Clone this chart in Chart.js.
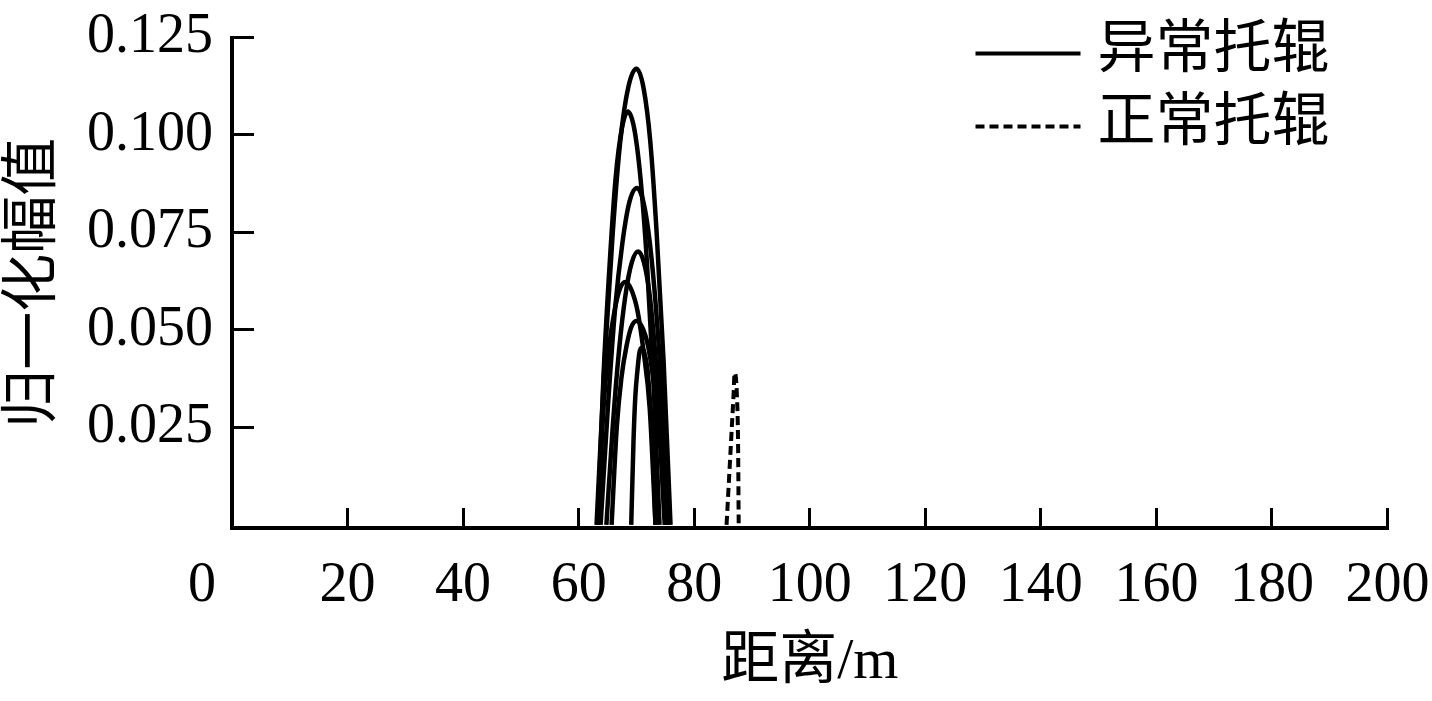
<!DOCTYPE html>
<html>
<head>
<meta charset="utf-8">
<script src="https://cdn.jsdelivr.net/npm/chart.js@4.4.1/dist/chart.umd.min.js"></script>
<style>
  body { margin: 0; background: #fff; }
  #chart-canvas { display: block; }
</style>
</head>
<body>
<canvas id="chart-canvas" width="1432" height="701"></canvas>
<script>
// distance (m) / normalized amplitude
const abnormalDist = [
	[63.1, 64.5, 65.9, 67.2, 68.6, 70.0, 71.2, 72.4, 73.5, 74.7, 75.9],
	[63.3, 64.3, 65.4, 66.4, 67.5, 68.5, 69.6, 70.7, 71.8, 72.9, 74.0],
	[63.8, 65.1, 66.3, 67.6, 68.8, 70.1, 71.2, 72.3, 73.4, 74.5, 75.6],
	[64.8, 65.9, 67.0, 68.1, 69.2, 70.3, 71.3, 72.3, 73.2, 74.2, 75.2],
	[63.3, 64.3, 65.2, 66.2, 67.1, 68.1, 69.1, 70.2, 71.2, 72.3, 73.3],
	[65.7, 66.6, 67.4, 68.3, 69.1, 70.0, 71.0, 72.0, 72.9, 73.9, 74.9],
	[69.1, 69.5, 69.8, 70.2, 70.5, 70.9, 71.4, 71.9, 72.3, 72.8, 73.3],
];
const abnormalAmp = [
	[0, 0.0421, 0.0749, 0.0983, 0.1123, 0.117, 0.1123, 0.0983, 0.0749, 0.0421, 0],
	[0, 0.0382, 0.0678, 0.0890, 0.1018, 0.106, 0.1018, 0.0890, 0.0678, 0.0382, 0],
	[0, 0.0311, 0.0553, 0.0726, 0.0829, 0.0864, 0.0829, 0.0726, 0.0553, 0.0311, 0],
	[0, 0.0252, 0.0449, 0.0589, 0.0673, 0.0701, 0.0673, 0.0589, 0.0449, 0.0252, 0],
	[0, 0.0299, 0.0449, 0.0548, 0.0604, 0.0623, 0.0604, 0.0548, 0.0449, 0.0299, 0],
	[0, 0.0251, 0.0377, 0.0460, 0.0507, 0.0523, 0.0507, 0.0460, 0.0377, 0.0251, 0],
	[0, 0.0218, 0.0327, 0.0400, 0.0440, 0.0454, 0.0440, 0.0400, 0.0327, 0.0218, 0],
];
const normalDist = [85.6, 86.0, 86.4, 86.8, 87.0, 87.4, 87.6, 87.7];
const normalAmp = [0, 0.011, 0.022, 0.033, 0.039, 0.033, 0.020, 0];

const seriesLabels = ['异常托辊', '正常托辊'];
const xTicks = [0, 20, 40, 60, 80, 100, 120, 140, 160, 180, 200];
const yTicks = [0.025, 0.050, 0.075, 0.100, 0.125];
const xTitle = '距离/m';
const yTitle = '归一化幅值';

const FONT = '"Liberation Serif", "Noto Sans CJK SC", serif';
const ctx = document.querySelector('#chart-canvas').getContext('2d');

const toPoints = (xs, ys) => xs.map((x, i) => ({ x, y: ys[i] }));

const datasets = abnormalDist.map((xs, i) => ({
	label: seriesLabels[0],
	data: toPoints(xs, abnormalAmp[i]),
	borderColor: '#000',
	borderWidth: 4.5,
	borderDash: [],
}));
datasets.push({
	label: seriesLabels[1],
	data: toPoints(normalDist, normalAmp),
	borderColor: '#000',
	borderWidth: 4,
	borderDash: [9, 5],
});

// legend inside the plot, top right
const legendPlugin = {
	id: 'innerLegend',
	afterDatasetsDraw(chart) {
		const { ctx, chartArea } = chart;
		const seen = [];
		chart.data.datasets.forEach(ds => {
			if (!seen.find(s => s.label === ds.label)) seen.push(ds);
		});
		ctx.save();
		ctx.font = '58px ' + FONT;
		ctx.textBaseline = 'middle';
		ctx.fillStyle = '#000';
		seen.forEach((ds, i) => {
			const y = chartArea.top + 16 + i * 73;
			ctx.beginPath();
			ctx.lineWidth = 4;
			ctx.strokeStyle = '#000';
			ctx.setLineDash(ds.borderDash);
			ctx.moveTo(chartArea.right - 412, y);
			ctx.lineTo(chartArea.right - 307, y);
			ctx.stroke();
			ctx.setLineDash([]);
			ctx.fillText(ds.label, chartArea.right - 290, y - 2);
		});
		ctx.restore();
	}
};

// the origin "0" sits left of the corner
const originLabel = {
	id: 'originLabel',
	afterDraw(chart) {
		const { ctx } = chart;
		const x = chart.scales.x;
		ctx.save();
		ctx.font = '56px ' + FONT;
		ctx.textAlign = 'center';
		ctx.textBaseline = 'middle';
		ctx.fillStyle = '#000';
		ctx.fillText(String(xTicks[0]), x.getPixelForValue(xTicks[0]) - 30, 586);
		ctx.restore();
	}
};

new Chart(ctx, {
	type: 'line',
	data: { datasets },
	options: {
		responsive: false,
		animation: false,
		devicePixelRatio: 1,
		layout: { padding: { left: 0, right: 44.5, top: 37.5, bottom: 0 } },
		elements: {
			point: { radius: 0 },
			line: { cubicInterpolationMode: 'monotone', fill: false },
		},
		plugins: {
			legend: { display: false },
			tooltip: { enabled: false },
		},
		scales: {
			x: {
				type: 'linear',
				min: 0,
				max: 200,
				afterBuildTicks: scale => { scale.ticks = xTicks.map(value => ({ value })); },
				afterFit: scale => {
					scale.height = 173;
					scale.paddingLeft = 0;
					scale.paddingRight = 0;
				},
				ticks: {
					color: '#000',
					font: { family: FONT, size: 56 },
					padding: 45,
					maxRotation: 0,
					autoSkip: false,
					callback: v => (v === 0 ? '' : String(v)),
				},
				grid: { drawOnChartArea: false, tickLength: -20, tickWidth: 3, tickColor: '#000' },
				border: { color: '#000', width: 4 },
				title: {
					display: true,
					text: xTitle,
					color: '#000',
					font: { family: FONT, size: 58 },
					padding: { top: 0, bottom: 3 },
				},
			},
			y: {
				min: -0.0008,
				max: 0.125,
				afterBuildTicks: scale => { scale.ticks = yTicks.map(value => ({ value })); },
				afterFit: scale => {
					scale.width = 232;
					scale.paddingTop = 0;
					scale.paddingBottom = 0;
				},
				ticks: {
					color: '#000',
					font: { family: FONT, size: 56 },
					padding: 41,
					callback: v => v.toFixed(3),
				},
				grid: { drawOnChartArea: false, tickLength: -22, tickWidth: 3, tickColor: '#000' },
				border: { color: '#000', width: 4 },
				title: {
					display: true,
					text: yTitle,
					color: '#000',
					font: { family: FONT, size: 58 },
					padding: { top: 0, bottom: 0 },
				},
			},
		},
	},
	plugins: [legendPlugin, originLabel],
});
</script>
</body>
</html>
